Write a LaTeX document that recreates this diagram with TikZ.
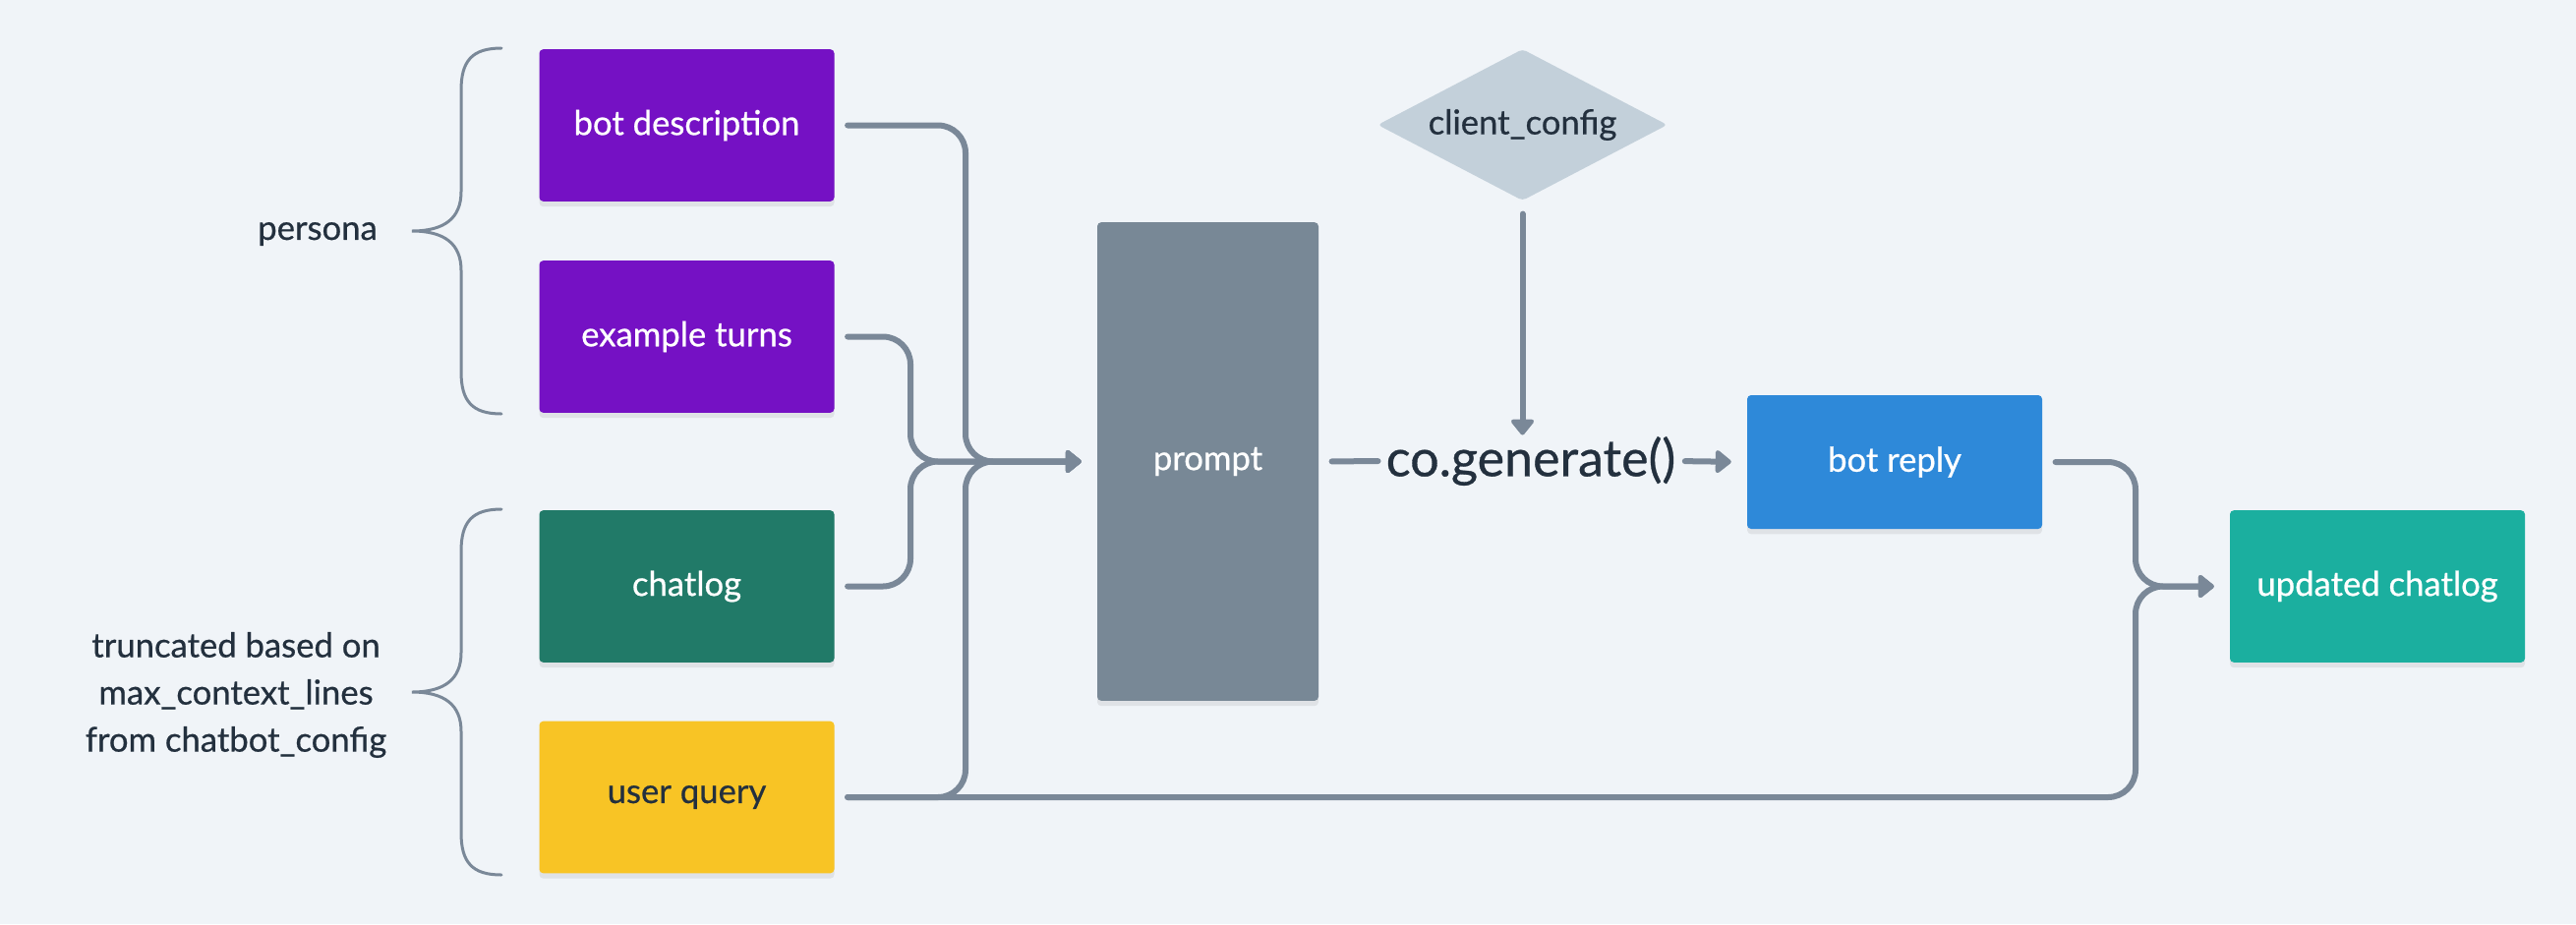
\documentclass[tikz,border=0pt]{standalone}
\usepackage{fontspec}
\setmainfont{Lato}[FakeBold=0.6]
\usetikzlibrary{arrows.meta}
\usetikzlibrary{shapes.geometric}
\usetikzlibrary{shadows}

\definecolor{bgpaper}{HTML}{F0F4F8}
\definecolor{wire}{HTML}{7A8898}
\definecolor{ink}{HTML}{23303E}
\definecolor{botpurple}{HTML}{7511C4}
\definecolor{logteal}{HTML}{217A68}
\definecolor{queryyellow}{HTML}{F8C425}
\definecolor{slate}{HTML}{788896}
\definecolor{cfggray}{HTML}{C3D0DA}
\definecolor{replyblue}{HTML}{2E89D9}
\definecolor{updteal}{HTML}{1BAF9F}

\tikzset{
  card/.style={rectangle, rounded corners=3pt, minimum width=225pt,
    minimum height=116pt, inner sep=0pt, text=white,
    font=\fontsize{26}{30}\selectfont,
    drop shadow={shadow xshift=0pt, shadow yshift=-4pt, opacity=0.07, fill=black}},
  link/.style={draw=wire, line width=4.5pt, rounded corners=21pt, line cap=round,
    shorten <=10pt, shorten >=12pt},
  feed/.style={link, -{Triangle[length=13pt,width=20pt,round]}},
  curly/.style={draw=wire, line width=2.25pt, line cap=round},
  note/.style={text=ink, font=\fontsize{26}{36}\selectfont, align=center}
}

\begin{document}
\begin{tikzpicture}[x=0.75pt,y=-0.75pt]
    \useasboundingbox (0,0) rectangle (2620,940);
    \fill[bgpaper] (0,0) rectangle (2620,940);

    % inputs
    \node[card, fill=botpurple] (desc) at (698.5,127.5) {bot description};
    \node[card, fill=botpurple] (turns) at (698.5,342.5) {example turns};
    \node[card, fill=logteal] (log) at (698.5,596.5) {chatlog};
    \node[card, fill=queryyellow, text=ink] (query) at (698.5,811) {user query};

    % braces and their notes
    \draw[curly] (510,49) .. controls (480,49) and (469,62) .. (469,92) -- (469,195)
        .. controls (469,222) and (452,235) .. (419,235)
        .. controls (452,235) and (469,248) .. (469,275) -- (469,378)
        .. controls (469,408) and (480,421) .. (510,421);
    \draw[curly,shift={(0,469)}] (510,49) .. controls (480,49) and (469,62) .. (469,92) -- (469,195)
        .. controls (469,222) and (452,235) .. (419,235)
        .. controls (452,235) and (469,248) .. (469,275) -- (469,378)
        .. controls (469,408) and (480,421) .. (510,421);
    \node[note] (persona) at (323,238) {persona};
    \node[note] (trunc) at (240,707) {truncated based on\\max\_context\_lines\\from chatbot\_config};

    % middle and right
    \node[card, fill=slate, minimum width=168.75pt, minimum height=365pt] (prompt) at (1228.5,469.5) {prompt};
    \node[diamond, aspect=1.92, fill=cfggray, rounded corners=3pt, minimum width=221pt, minimum height=115.5pt,
        inner sep=0pt, text=ink, font=\fontsize{26}{30}\selectfont] (cfg) at (1548.5,127) {client\_config};
    \node[inner sep=0pt, text=ink, font=\fontsize{39}{44}\selectfont] (gen) at (1557,469) {co.generate()};
    \node[card, fill=replyblue, minimum height=102pt] (reply) at (1927,470) {bot reply};
    \node[card, fill=updteal] (upd) at (2418,596.5) {updated chatlog};

    \coordinate (inner) at (926,469.5);
    \coordinate (outer) at (982,469.5);
    \coordinate (rail) at (2172,596.5);

    % connectors
    \draw[feed] (desc.east) -| (outer) -- (prompt.west);
    \draw[feed] (turns.east) -| (inner) -- (prompt.west);
    \draw[feed] (log.east) -| (inner) -- (prompt.west);
    \draw[feed] (query.east) -| (outer) -- (prompt.west);
    \draw[feed] (query.east) -| (rail) -- (upd.west);
    \draw[feed] (reply.east) -| (rail) -- (upd.west);
    \draw[link, shorten >=6pt] (prompt.east) -- (gen.west);
    \draw[feed, shorten <=7pt] (gen.east) -- (reply.west);
    \draw[feed, shorten >=1pt] (cfg.south) -- (cfg.south |- gen.north);
\end{tikzpicture}
\end{document}
